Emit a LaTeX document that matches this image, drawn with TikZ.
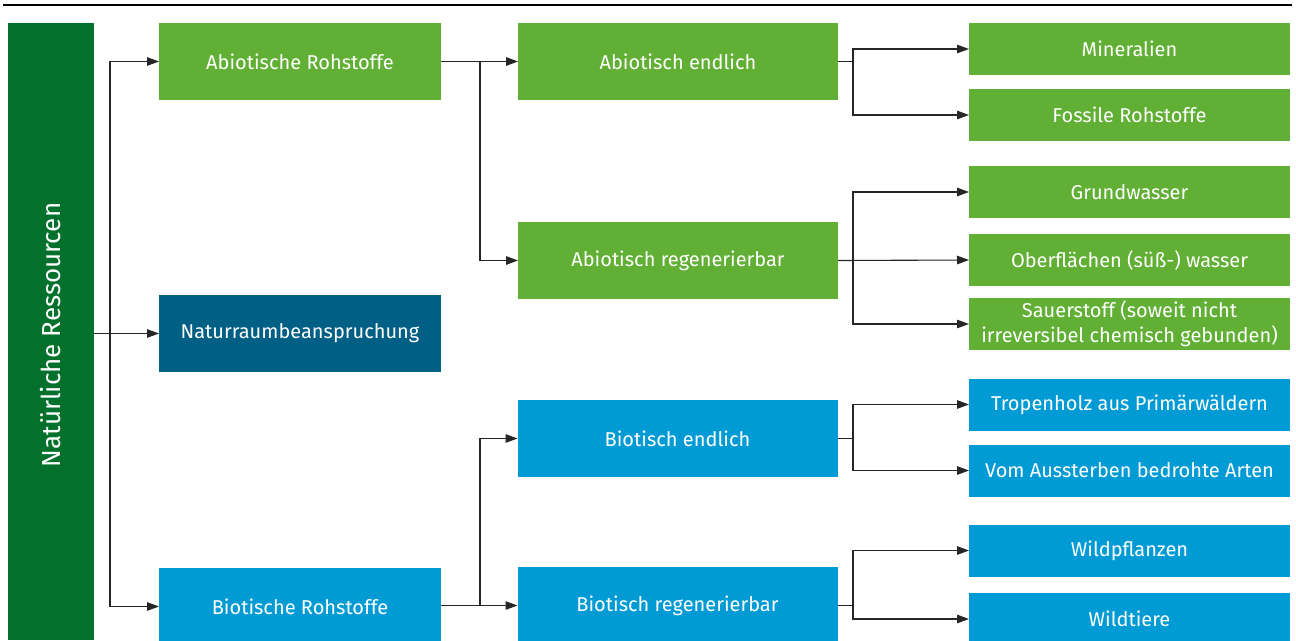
\documentclass[tikz,border=0pt]{standalone}
\usepackage{fontspec}
\setmainfont{Fira Sans}
\usetikzlibrary{arrows.meta}
\definecolor{dgreen}{RGB}{3,113,43}
\definecolor{lgreen}{RGB}{98,175,53}
\definecolor{dblue}{RGB}{0,95,133}
\definecolor{lblue}{RGB}{0,155,213}
\tikzset{
  box/.style={rectangle, inner sep=0pt, outer sep=0pt, text=white, align=center,
    font=\fontsize{20}{25}\selectfont},
  colA/.style={box, minimum width=282pt, minimum height=77pt},
  colB/.style={box, minimum width=320pt, minimum height=77pt},
  colC/.style={box, minimum width=321pt, minimum height=52pt},
  conn/.style={line width=1.1pt, draw=black!85},
  arr/.style={conn, -{Triangle[length=12pt,width=8.5pt]}},
}
\begin{document}
\begin{tikzpicture}[x=1pt,y=-1pt]
\useasboundingbox (0,0) rectangle (1296,640);
\clip (0,0) rectangle (1296,640);
\fill[white] (0,0) rectangle (1296,640);
\draw[line width=2pt] (3,5) -- (1292,5);

\node[box, fill=dgreen, minimum width=86pt, minimum height=617pt] (bar) at (51,331.5) {};
\node[text=white, rotate=90, font=\fontsize{26}{30}\selectfont] (bartext) at (51,335) {Natürliche Ressourcen};

\node[colA, fill=lgreen] (a1) at (300,61.5) {Abiotische Rohstoffe};
\node[colA, fill=dblue] (n1) at (300,333.5) {Naturraumbeanspruchung};
\node[colA, fill=lblue] (b1) at (300,606.5) {Biotische Rohstoffe};

\node[colB, fill=lgreen] (a2e) at (678,61.5) {Abiotisch endlich};
\node[colB, fill=lgreen] (a2r) at (678,260.5) {Abiotisch regenerierbar};
\node[colB, fill=lblue] (b2e) at (677.5,438.5) {Biotisch endlich};
\node[colB, fill=lblue] (b2r) at (677.5,605.5) {Biotisch regenerierbar};

\node[colC, fill=lgreen] (m) at (1129.5,49) {Mineralien};
\node[colC, fill=lgreen] (f) at (1129.5,115) {Fossile Rohstoffe};
\node[colC, fill=lgreen] (g) at (1129.5,192) {Grundwasser};
\node[colC, fill=lgreen] (o) at (1129.5,260) {Oberflächen (süß-) wasser};
\node[colC, fill=lgreen] (s) at (1129.5,324) {Sauerstoff (soweit nicht\\irreversibel chemisch gebunden)};
\node[colC, fill=lblue] (t) at (1129.5,404.5) {Tropenholz aus Primärwäldern};
\node[colC, fill=lblue] (v) at (1129.5,470.5) {Vom Aussterben bedrohte Arten};
\node[colC, fill=lblue] (w1) at (1129.5,550.5) {Wildpflanzen};
\node[colC, fill=lblue] (w2) at (1129.5,619) {Wildtiere};

% column 1 connectors
\coordinate (j1) at (110,333.5);
\draw[arr] (bar.east |- j1) -- (n1.west);
\draw[arr] (j1) |- (a1.west);
\draw[arr] (j1) |- (b1.west);

% column 2 connectors
\coordinate (j2) at (480,61.5);
\draw[arr] (a1.east) -- (a2e.west);
\draw[arr] (j2) |- (a2r.west);
\coordinate (j3) at (480,605.5);
\draw[arr] (b1.east |- j3) -- (b2r.west);
\draw[arr] (j3) |- (b2e.west);

% column 3 connectors
\coordinate (k1) at (853,61.5);
\draw[conn] (a2e.east) -- (k1);
\draw[arr] (k1) |- (m.west);
\draw[arr] (k1) |- (f.west);

\coordinate (k2) at (853,260.5);
\draw[arr] (a2r.east) -- (o.west);
\draw[arr] (k2) |- (g.west);
\draw[arr] (k2) |- (s.west);

\coordinate (k3) at (853,438.5);
\draw[conn] (b2e.east) -- (k3);
\draw[arr] (k3) |- (t.west);
\draw[arr] (k3) |- (v.west);

\coordinate (k4) at (853,605.5);
\draw[conn] (b2r.east) -- (k4);
\draw[arr] (k4) |- (w1.west);
\draw[arr] (k4) |- (w2.west);
\end{tikzpicture}
\end{document}
